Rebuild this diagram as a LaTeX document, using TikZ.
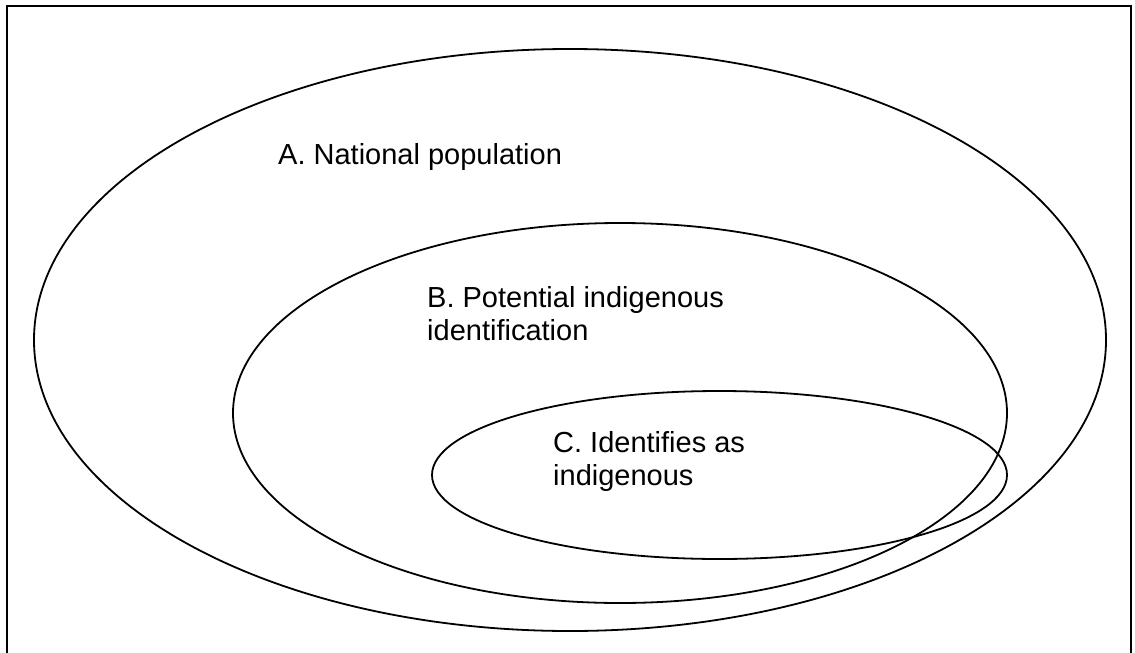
\documentclass[tikz,border=0pt]{standalone}
\usepackage{fontspec}
\setmainfont{Liberation Sans}
\usepackage{tikz}
\usetikzlibrary{calc}

\tikzset{
  setline/.style={black,line width=1.8pt},
  setlabel/.style={anchor=base west,align=left,inner sep=0pt,font=\fontsize{29}{33}\selectfont}
}

\begin{document}
\begin{tikzpicture}[x=1pt,y=-1pt]
\useasboundingbox (0,0) rectangle (1135,653);
% outer frame (bottom edge lies below the page)
\draw[black,line width=2.8pt] (7,6) rectangle (1131,680);

% the three sets
\draw[setline] (570,340) ellipse (536 and 291);
\draw[setline] (620,413) ellipse (387 and 190);
\draw[setline] (719.5,475) ellipse (287.5 and 84);

%% labels (base = baseline of the last line)
\node[setlabel] (natpop) at (278,164) {A. National population};
\node[setlabel] (potind) at (427,340) {B. Potential indigenous\\identification};
\node[setlabel] (idind) at (553,485) {C. Identifies as\\indigenous};
\end{tikzpicture}
\end{document}
